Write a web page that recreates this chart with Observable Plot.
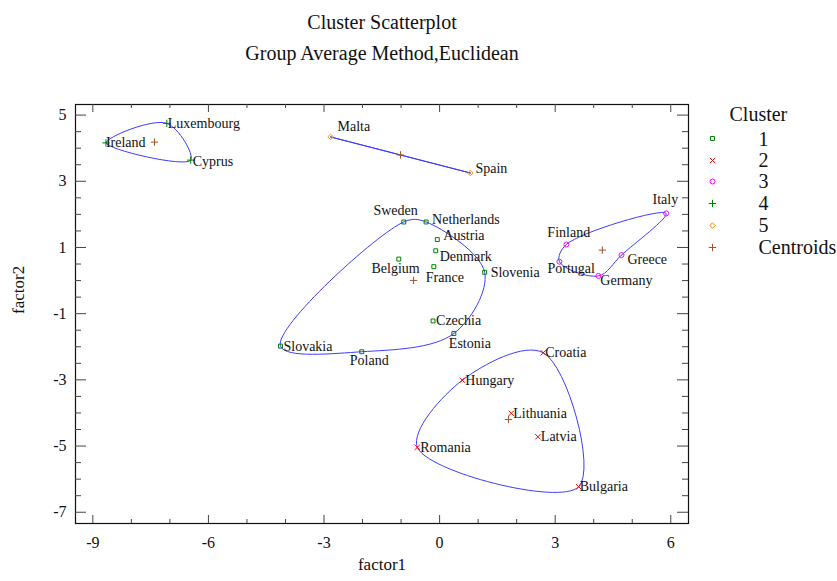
<!DOCTYPE html>
<html>
<head>
<meta charset="utf-8">
<script src="https://cdn.jsdelivr.net/npm/d3@7"></script>
<script src="https://cdn.jsdelivr.net/npm/@observablehq/plot@0.6"></script>
<style>
  html, body { margin: 0; padding: 0; background: #fff; }
  svg { display: block; }
</style>
</head>
<body>
<div id="chart"></div>
<script>
// ---------- data ----------
const countries = ["Luxembourg", "Ireland", "Cyprus", "Malta", "Spain",
  "Sweden", "Netherlands", "Austria", "Denmark", "Belgium", "France", "Slovenia",
  "Czechia", "Estonia", "Slovakia", "Poland",
  "Italy", "Finland", "Portugal", "Greece", "Germany",
  "Croatia", "Hungary", "Lithuania", "Latvia", "Romania", "Bulgaria"];
const factor1 = [-7.08, -8.66, -6.46, -2.83, 0.80,
  -0.93, -0.35, -0.06, -0.10, -1.06, -0.15, 1.17,
  -0.17, 0.37, -4.13, -2.02,
  5.88, 3.29, 3.11, 4.72, 4.12,
  2.69, 0.59, 1.86, 2.55, -0.58, 3.61];
const factor2 = [4.75, 4.16, 3.64, 4.34, 3.25,
  1.77, 1.77, 1.24, 0.90, 0.65, 0.42, 0.25,
  -1.22, -1.60, -1.98, -2.15,
  2.03, 1.09, 0.57, 0.77, 0.14,
  -2.18, -3.01, -4.01, -4.72, -5.04, -6.23];
const cluster = [4, 4, 4, 5, 5,
  1, 1, 1, 1, 1, 1, 1,
  1, 1, 1, 1,
  3, 3, 3, 3, 3,
  2, 2, 2, 2, 2, 2];

const clusterIds = ["1", "2", "3", "4", "5"];
const legendLabels = ["1", "2", "3", "4", "5", "Centroids"];
const xTickValues = [-9, -6, -3, 0, 3, 6];
const xMinorValues = [-8, -7, -5, -4, -2, -1, 1, 2, 4, 5];
const yTickValues = [-7, -5, -3, -1, 1, 3, 5];
const yMinorValues = [-6.5, -6, -5.5, -4.5, -4, -3.5, -2.5, -2, -1.5, -0.5, 0, 0.5, 1.5, 2, 2.5, 3.5, 4, 4.5];
const titleText = "Cluster Scatterplot";
const subtitleText = "Group Average Method,Euclidean";
const xLabel = "factor1";
const yLabel = "factor2";
const legendTitle = "Cluster";

// ---------- styles ----------
const W = 837, H = 581, mL = 75, mR = 149, mT = 104, mB = 58;
const frameW = W - mL - mR, frameH = H - mT - mB;
const FONT = '"Liberation Serif", "Times New Roman", serif';
const clusterColors = ["#008000", "#ff0000", "#ff00ff", "#008000", "#ff8c00"];
const clusterSymbols = ["square2", "times", "circle", "plus", "diamond2"];
const centroidColor = "#a0522d";
const hullColor = "#3c3cff";
const tickColor = "#444";

// label placement: [dx, dy, textAnchor]
const labelPlacement = {
  Luxembourg: [1, 0, "start"], Ireland: [0, 0, "start"], Cyprus: [2, 1, "start"],
  Malta: [7, -10, "start"], Spain: [5, -4, "start"],
  Sweden: [14, -11, "end"], Netherlands: [6, -2, "start"], Austria: [6, -4, "start"],
  Denmark: [4, 6, "start"], Belgium: [21, 9, "end"], France: [-8, 11, "start"],
  Slovenia: [6, 0, "start"], Czechia: [3, 0, "start"], Estonia: [-5, 10, "start"],
  Slovakia: [3, 0, "start"], Poland: [-12, 9, "start"],
  Italy: [12, -14, "end"], Finland: [-19, -12, "start"], Portugal: [-12, 7, "start"],
  Greece: [6, 4, "start"], Germany: [2, 5, "start"],
  Croatia: [2, 0, "start"], Hungary: [3, 0, "start"], Lithuania: [2, 0, "start"],
  Latvia: [3, 0, "start"], Romania: [3, 0, "start"], Bulgaria: [1, 0, "start"]
};

// ---------- derived tables ----------
const rows = countries.map((name, i) => ({name, f1: factor1[i], f2: factor2[i], cluster: String(cluster[i])}));

const centroids = clusterIds.map(c => {
  const pts = rows.filter(d => d.cluster === c);
  return {cluster: c, f1: d3.mean(pts, d => d.f1), f2: d3.mean(pts, d => d.f2)};
});

const hullRows = [];
for (const c of clusterIds) {
  const pts = rows.filter(d => d.cluster === c).map(d => [d.f1, d.f2]);
  const h = pts.length >= 3 ? d3.polygonHull(pts) : pts;
  h.forEach(([f1, f2]) => hullRows.push({cluster: c, f1, f2}));
}

// ---------- marks ----------
const tickMarks = [
  Plot.ruleX(xTickValues, {x: d => d, insetTop: frameH - 8, stroke: tickColor}),
  Plot.ruleX(xTickValues, {x: d => d, insetBottom: frameH - 8, stroke: tickColor}),
  Plot.ruleX(xMinorValues, {x: d => d, insetTop: frameH - 4, stroke: tickColor}),
  Plot.ruleX(xMinorValues, {x: d => d, insetBottom: frameH - 4, stroke: tickColor}),
  Plot.ruleY(yTickValues, {y: d => d, insetRight: frameW - 11, stroke: tickColor}),
  Plot.ruleY(yTickValues, {y: d => d, insetLeft: frameW - 11, stroke: tickColor}),
  Plot.ruleY(yMinorValues, {y: d => d, insetRight: frameW - 6, stroke: tickColor}),
  Plot.ruleY(yMinorValues, {y: d => d, insetLeft: frameW - 6, stroke: tickColor})
];

const labelMarks = rows.map(r => {
  const [dx, dy, anchor] = labelPlacement[r.name];
  return Plot.text([r], {x: "f1", y: "f2", text: "name", dx, dy, textAnchor: anchor,
    fontSize: 14, fontFamily: FONT, fill: "#111"});
});

const legendDotDy = [34, 56, 77, 99, 121, 143];
const legendTextDy = [27, 48.5, 69.5, 91.5, 113.5, 135.5];
const legendMarks = [
  Plot.text([legendTitle], {text: d => d, frameAnchor: "top-right", dx: 41, dy: 2,
    textAnchor: "start", fontSize: 20, fontFamily: FONT, fill: "#111"})
];
legendLabels.forEach((lab, i) => {
  const isCentroid = i === 5;
  legendMarks.push(Plot.dot([lab], {frameAnchor: "top-right", dx: 24, dy: legendDotDy[i],
    symbol: isCentroid ? "plus" : clusterSymbols[i],
    stroke: isCentroid ? centroidColor : clusterColors[i], r: 2.5, strokeWidth: 1}));
  legendMarks.push(Plot.text([lab], {text: d => d, frameAnchor: "top-right", dx: 70, dy: legendTextDy[i],
    textAnchor: "start", fontSize: 20, fontFamily: FONT, fill: "#111"}));
});

const chart = Plot.plot({
  width: W,
  height: H,
  marginLeft: mL, marginRight: mR, marginTop: mT, marginBottom: mB,
  style: {fontFamily: FONT, background: "#fff", color: "#111"},
  x: {domain: [-9.45, 6.46]},
  y: {domain: [-7.34, 5.32]},
  color: {domain: clusterIds, range: clusterColors},
  symbol: {domain: clusterIds, range: clusterSymbols},
  marks: [
    Plot.line(hullRows, {x: "f1", y: "f2", z: "cluster", curve: "catmull-rom-closed",
      stroke: hullColor, strokeWidth: 1}),
    Plot.dot(rows, {x: "f1", y: "f2", stroke: "cluster", symbol: "cluster", r: 2.5, strokeWidth: 1}),
    Plot.dot(centroids, {x: "f1", y: "f2", symbol: "plus", stroke: centroidColor, r: 2.5, strokeWidth: 1}),
    ...labelMarks,
    Plot.frame({stroke: "#111", strokeWidth: 1.2}),
    ...tickMarks,
    Plot.axisX(xTickValues, {anchor: "bottom", tickSize: 0, tickPadding: 13, fontSize: 16,
      tickFormat: d => String(d), label: null, fontFamily: FONT}),
    Plot.axisY(yTickValues, {anchor: "left", tickSize: 0, tickPadding: 9, fontSize: 16,
      tickFormat: d => String(d), label: null, fontFamily: FONT}),
    Plot.text([xLabel], {text: d => d, frameAnchor: "bottom", dy: 46, fontSize: 17, fontFamily: FONT, fill: "#111"}),
    Plot.text([yLabel], {text: d => d, frameAnchor: "left", dx: -57, rotate: -90, fontSize: 17, fontFamily: FONT, fill: "#111"}),
    Plot.text([titleText], {text: d => d, frameAnchor: "top", dy: -90, fontSize: 20, fontFamily: FONT, fill: "#111"}),
    Plot.text([subtitleText], {text: d => d, frameAnchor: "top", dy: -59, fontSize: 20, fontFamily: FONT, fill: "#111"}),
    ...legendMarks
  ]
});
document.getElementById("chart").appendChild(chart);
</script>
</body>
</html>
